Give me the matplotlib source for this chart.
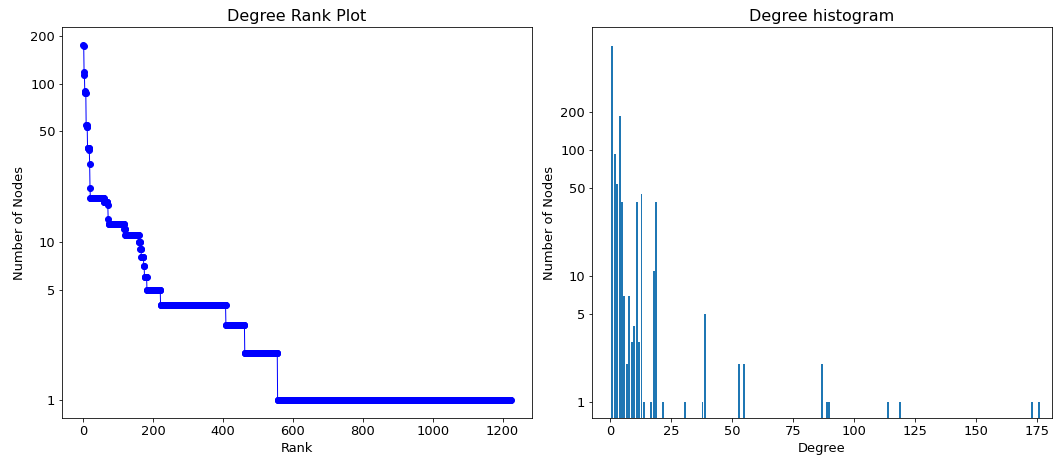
import numpy as np
import matplotlib
matplotlib.use("Agg")
import matplotlib.pyplot as plt
from matplotlib.ticker import NullLocator, FixedLocator, FixedFormatter

# degree -> number of nodes with that degree
DEGREES = [1, 2, 3, 4, 5, 6, 7, 8, 9, 10, 11, 12, 13, 14, 17, 18, 19, 22,
           31, 38, 39, 53, 55, 87, 89, 90, 114, 119, 173, 176]
COUNTS = [668, 94, 54, 187, 39, 7, 2, 7, 3, 4, 39, 3, 45, 1, 1, 11, 39, 1,
          1, 1, 5, 2, 2, 2, 1, 1, 1, 1, 1, 1]

Y_TICKS = [1, 5, 10, 50, 100, 200]
Y_TICK_LABELS = ["1", "5", "10", "50", "100", "200"]

DPI = 72


def log_ticks(ax):
    ax.set_yscale("log")
    ax.yaxis.set_major_locator(FixedLocator(Y_TICKS))
    ax.yaxis.set_major_formatter(FixedFormatter(Y_TICK_LABELS))
    ax.yaxis.set_minor_locator(NullLocator())
    ax.tick_params(labelsize=13)


def rank_plot(ax, degrees, counts):
    # rebuild the degree sequence from the histogram, largest first
    sequence = sorted(np.repeat(degrees, counts), reverse=True)
    ax.plot(sequence, "b-", marker="o", linewidth=1, markersize=6)
    log_ticks(ax)
    ax.set_title("Degree Rank Plot", fontsize=16)
    ax.set_xlabel("Rank", fontsize=13)
    ax.set_ylabel("Number of Nodes", fontsize=13)


def histogram(ax, degrees, counts):
    ax.bar(degrees, counts)
    log_ticks(ax)
    ax.set_ylim(0.75, 950)
    ax.set_xlim(-7.3, 181.3)
    ax.set_title("Degree histogram", fontsize=16)
    ax.set_xlabel("Degree", fontsize=13)
    ax.set_ylabel("Number of Nodes", fontsize=13)


fig = plt.figure(figsize=(1060 / DPI, 459 / DPI), dpi=DPI)
ax_rank = fig.add_axes([62 / 1060, 0.0893, 470 / 1060, 0.8519])
ax_hist = fig.add_axes([592 / 1060, 0.0893, 460 / 1060, 0.8519])

rank_plot(ax_rank, DEGREES, COUNTS)
histogram(ax_hist, DEGREES, COUNTS)

fig.savefig("out.png", dpi=DPI)
